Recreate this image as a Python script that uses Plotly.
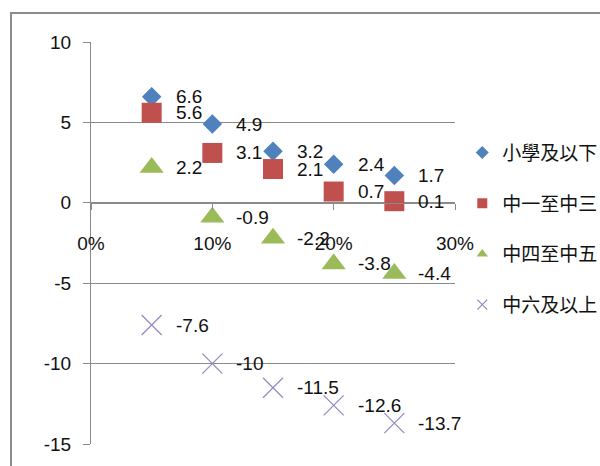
import plotly.graph_objects as go

x_vals = [0.05, 0.10, 0.15, 0.20, 0.25]
series_names = ["小學及以下", "中一至中三", "中四至中五", "中六及以上"]
s1 = [6.6, 4.9, 3.2, 2.4, 1.7]
s2 = [5.6, 3.1, 2.1, 0.7, 0.1]
s3 = [2.2, -0.9, -2.2, -3.8, -4.4]
s4 = [-7.6, -10, -11.5, -12.6, -13.7]
y_ticks = [10, 5, 0, -5, -10, -15]
y_tick_text = ["10", "5", "0", "-5", "-10", "-15"]

series = [s1, s2, s3, s4]
styles = [
    dict(symbol="diamond", size=15, color="#4F81BD"),
    dict(symbol="square", size=20, color="#C0504D"),
    dict(symbol="triangle-up", size=21, color="#9BBB59"),
    dict(symbol="x-thin", size=20, color="#9A8BC4", line=dict(color="#9A8BC4", width=1.3)),
]
legend_sizes = [10, 10, 10, 10]

FONT = "Liberation Sans"
fig = go.Figure()
for i, (name, ys, st) in enumerate(zip(series_names, series, styles)):
    fig.add_trace(go.Scatter(x=x_vals, y=ys, mode="markers", name=name,
                             marker=st, showlegend=False, hoverinfo="skip"))
for i, (name, st) in enumerate(zip(series_names, styles)):
    lst = dict(st)
    lst["size"] = legend_sizes[i]
    fig.add_trace(go.Scatter(x=[None], y=[None], mode="markers", name=name,
                             marker=lst, legendgroup=str(i), showlegend=True))

for ys in series:
    for xv, yv in zip(x_vals, ys):
        fig.add_annotation(x=xv, y=yv, text=f"{yv:g}", showarrow=False,
                           xanchor="left", yanchor="middle", xshift=22,
                           font=dict(family=FONT, size=19, color="#111111"))

grid = "#8A8A8A"
fig.update_layout(
    width=600, height=466,
    margin=dict(l=91, r=145, t=42, b=22, autoexpand=False),
    paper_bgcolor="white", plot_bgcolor="white",
    font=dict(family=FONT, size=19, color="#111111"),
    xaxis=dict(range=[0, 0.3], dtick=0.1, tick0=0, tickformat=".0%",
               anchor="free", position=0.6, showline=True, linecolor=grid,
               linewidth=1, ticks="outside", ticklen=6, tickcolor=grid,
               showgrid=False, zeroline=False, ticklabelstandoff=17,
               tickfont=dict(family=FONT, size=19, color="#111111")),
    yaxis=dict(range=[-15, 10], tickvals=y_ticks, ticktext=y_tick_text,
               showgrid=True, gridcolor=grid,
               gridwidth=1, zeroline=False, showline=True, linecolor=grid,
               ticks="outside", ticklen=7, tickcolor=grid, ticklabelstandoff=8,
               tickfont=dict(family=FONT, size=19, color="#111111")),
    legend=dict(x=1.02, y=0.772, xanchor="left", yanchor="top",
                traceorder="grouped", tracegroupgap=23,
                font=dict(family="Noto Sans CJK TC", size=19, color="#111111"),
                bgcolor="rgba(0,0,0,0)", itemwidth=30),
    shapes=[dict(type="rect", xref="paper", yref="paper",
                 x0=(11 - 91) / 364, x1=1.6, y0=-0.3, y1=1 + (42 - 13) / 402,
                 line=dict(color="#8C8C8C", width=2), layer="below")],
)

fig.write_html("out.html")
